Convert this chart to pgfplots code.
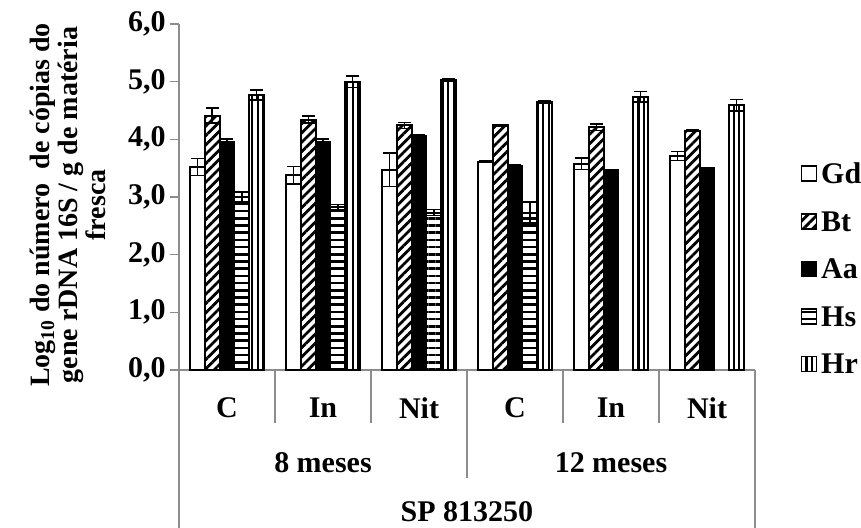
\documentclass[border=0pt]{standalone}
\usepackage{fontspec}
\setmainfont{Liberation Serif}
\usepackage{pgfplots}
\pgfplotsset{compat=1.18}
\usetikzlibrary{patterns.meta}
\definecolor{axgray}{RGB}{140,140,140}
\newcommand{\lf}{\fontsize{15}{14.3}\selectfont\bfseries}
\newcommand{\yf}{\fontsize{14}{14}\selectfont\bfseries}
\begin{document}
\begin{tikzpicture}
\begin{axis}[
  at={(0,0)}, anchor=south west,
  scale only axis, width=288pt, height=173pt,
  xmin=-0.5, xmax=5.5, ymin=0, ymax=6,
  axis x line*=bottom, axis y line*=left,
  axis line style={draw=axgray, line width=0.8pt},
  clip=false,
  ybar=0pt, bar width=7.35pt,
  legend image code/.code={\draw[#1,/tikz/.cd,line width=0.8pt] (0pt,-3.2pt) rectangle (7.5pt,4.3pt);},
  xtick=\empty,
  ytick={0,1,2,3,4,5,6},
  tick align=outside, major tick length=4.5pt,
  ytick style={draw=axgray, line width=0.8pt},
  yticklabel style={font=\lf, inner xsep=2pt},
  /pgf/number format/.cd, fixed, fixed zerofill, precision=1, use comma, assume math mode=true,
  /pgfplots/.cd,
  ylabel={Log\textsubscript{10} do número \ de cópias do\\gene rDNA 16S / g de matéria\\fresca},
  ylabel style={align=center, font=\yf, yshift=5.5pt, xshift=-4pt},
  legend style={at={(1.068,0.29)}, anchor=west, draw=none, fill=none, font=\lf, row sep=8.4pt,
    nodes={inner xsep=2pt}},
  legend cell align=left,
  error bars/y dir=both, error bars/y explicit,
  error bars/error bar style={line width=0.8pt, black},
  error bars/error mark options={rotate=90, mark size=3.2pt, line width=0.8pt, black},
]
\addplot[draw=black, fill=white, line width=1pt] coordinates {
 (0,3.52) +- (0,0.15)
 (1,3.38) +- (0,0.15)
 (2,3.47) +- (0,0.29)
 (3,3.61) +- (0,0.01)
 (4,3.58) +- (0,0.10)
 (5,3.71) +- (0,0.08)};
\addplot[draw=black, line width=1pt, pattern={Lines[angle=45,distance=3.3pt,line width=1.4pt]}, pattern color=black] coordinates {
 (0,4.41) +- (0,0.13)
 (1,4.34) +- (0,0.06)
 (2,4.24) +- (0,0.05)
 (3,4.24) +- (0,0.02)
 (4,4.21) +- (0,0.06)
 (5,4.15) +- (0,0.01)};
\addplot[draw=black, fill=black, line width=1pt] coordinates {
 (0,3.95) +- (0,0.06)
 (1,3.95) +- (0,0.06)
 (2,4.06) +- (0,0.02)
 (3,3.53) +- (0,0.02)
 (4,3.47) +- (0,0.01)
 (5,3.50) +- (0,0.01)};
\addplot[draw=black, line width=1pt, pattern={Lines[angle=0,distance=3.6pt,line width=1.3pt]}, pattern color=black] coordinates {
 (0,3.00) +- (0,0.09)
 (1,2.82) +- (0,0.05)
 (2,2.73) +- (0,0.05)
 (3,2.73) +- (0,0.18)};
\addplot[draw=black, line width=1pt, pattern={Lines[angle=90,distance=2.8pt,line width=1.1pt]}, pattern color=black] coordinates {
 (0,4.77) +- (0,0.09)
 (1,5.00) +- (0,0.10)
 (2,5.03) +- (0,0.02)
 (3,4.64) +- (0,0.02)
 (4,4.74) +- (0,0.09)
 (5,4.59) +- (0,0.10)};
\legend{Gd,Bt,Aa,Hs,Hr}
% hierarchical category axis
\draw[axgray, line width=0.8pt] (axis cs:0.5,0) -- ++(0pt,-26.5pt);
\draw[axgray, line width=0.8pt] (axis cs:1.5,0) -- ++(0pt,-26.5pt);
\draw[axgray, line width=0.8pt] (axis cs:3.5,0) -- ++(0pt,-26.5pt);
\draw[axgray, line width=0.8pt] (axis cs:4.5,0) -- ++(0pt,-26.5pt);
\draw[axgray, line width=0.8pt] (axis cs:2.5,0) -- ++(0pt,-54pt);
\draw[axgray, line width=0.8pt] (axis cs:-0.5,0) -- ++(0pt,-79pt);
\draw[axgray, line width=0.8pt] (axis cs:5.5,0) -- ++(0pt,-79pt);
\node[font=\lf, yshift=-19pt] at (axis cs:0,0) {C};
\node[font=\lf, yshift=-19pt] at (axis cs:1,0) {In};
\node[font=\lf, yshift=-19pt] at (axis cs:2,0) {Nit};
\node[font=\lf, yshift=-19pt] at (axis cs:3,0) {C};
\node[font=\lf, yshift=-19pt] at (axis cs:4,0) {In};
\node[font=\lf, yshift=-19pt] at (axis cs:5,0) {Nit};
\node[font=\lf, yshift=-46.5pt] at (axis cs:1,0) {8 meses};
\node[font=\lf, yshift=-46.5pt] at (axis cs:4,0) {12 meses};
\node[font=\lf, yshift=-71pt] at (axis cs:2.5,0) {SP 813250};
\end{axis}
\pgfresetboundingbox
\useasboundingbox (-89.5pt,-79pt) rectangle (341pt,185pt);
\end{tikzpicture}
\end{document}
